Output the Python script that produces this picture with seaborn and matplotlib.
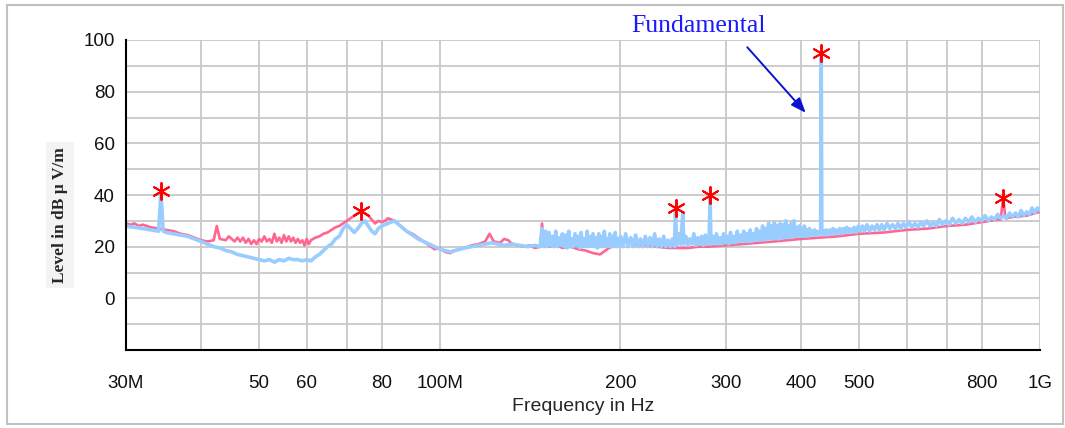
import matplotlib
matplotlib.use("Agg")
import matplotlib.pyplot as plt
import seaborn as sns
import pandas as pd
from matplotlib.patches import Rectangle

# ---------------- data (MHz, dBuV/m) ----------------
pink_points = [(30, 29), (30.5, 28.5), (31, 29), (31.5, 28), (32, 28.5), (33, 27.5), (34, 27), (35, 26.5),
               (36, 26), (37, 25), (38, 24.5), (39, 23.5), (40, 22.5), (41, 22), (42, 22.5), (42.5, 28),
               (43, 23), (44, 22.5), (44.5, 24), (45, 23), (45.5, 22), (46, 23.5), (46.5, 22), (47, 23.5),
               (47.5, 21.5), (48, 23), (48.5, 21), (49, 22.5), (49.5, 21), (50, 23), (50.5, 22), (51, 24),
               (51.5, 22), (52, 23), (52.5, 21.5), (53, 25), (53.5, 22), (54, 23.5), (54.5, 21.5), (55, 24.5),
               (55.5, 22), (56, 24), (56.5, 22), (57, 23.5), (57.5, 21.5), (58, 23), (58.5, 21.5), (59, 22.5),
               (59.5, 20.5), (60, 23), (60.5, 21), (61, 22.5), (62, 23.5), (63, 24), (64, 25), (65, 25.5),
               (66, 26.5), (67, 27.5), (68, 28), (69, 29), (70, 30), (71, 31), (72, 32), (73, 33),
               (74, 33.5), (75, 33), (76, 32), (77, 30.5), (78, 29), (79, 30), (80, 29.5), (81, 30),
               (82, 31), (83, 30.5), (84, 30), (86, 28), (88, 26), (90, 25), (92, 23.5), (94, 22),
               (96, 20.5), (98, 19), (100, 19.5), (102, 18), (104, 17.5), (106, 18.5), (108, 19), (110, 19.5),
               (113, 20.5), (116, 21), (119, 22), (121, 25), (123, 22), (126, 21.5), (128, 23), (130, 22.5),
               (132, 21), (135, 20.5), (138, 20), (141, 20.5), (144, 19.5), (147, 20), (148, 29), (149, 21),
               (152, 20), (156, 21), (160, 19.5), (165, 20), (170, 19), (175, 18.5), (180, 17.5), (185, 17),
               (190, 19), (195, 20.5), (200, 22.5), (205, 23), (210, 21), (220, 20.5), (230, 20), (240, 19.5),
               (250, 19.5), (260, 19.5), (270, 20), (280, 20), (300, 20.5), (320, 21), (340, 21.5), (360, 22),
               (380, 22.5), (400, 23), (430, 23.5), (460, 24), (500, 25), (550, 25.5), (600, 26.5), (650, 27),
               (700, 28), (750, 28.5), (800, 29.5), (850, 30.5), (860, 30.5), (868, 39), (876, 31), (900, 31.5),
               (950, 32), (1000, 33.5)]

blue_points = [(30, 28), (31, 27.5), (32, 27), (33, 26.5), (34, 26), (34.3, 41), (34.6, 26), (35, 25.5),
               (36, 25), (37, 24.5), (38, 24), (39, 23), (40, 22), (41, 21), (42, 20), (43, 19.5),
               (44, 18.5), (45, 18), (46, 17), (47, 16.5), (48, 16), (49, 15.5), (50, 15), (51, 14.5),
               (52, 15), (53, 14), (54, 15), (55, 14.5), (56, 15.5), (57, 15), (58, 15), (59, 14.5),
               (60, 15), (61, 14.5), (62, 16), (63, 17), (64, 18.5), (65, 20), (66, 21), (67, 23),
               (68, 24), (69, 27), (70, 28.5), (71, 27), (72, 25.5), (73, 27), (74, 29), (75, 30),
               (76, 28), (77, 26), (78, 25), (79, 27), (80, 28), (82, 29), (84, 30), (86, 28),
               (88, 26), (90, 24.5), (92, 23), (94, 22), (96, 21), (98, 20), (100, 19), (102, 18.5),
               (104, 18), (106, 18.5), (108, 19), (110, 19.5), (113, 20), (116, 20.5), (119, 21), (122, 21.5),
               (125, 21), (128, 20.5), (132, 21), (136, 20.5), (140, 20), (144, 20.5), (147, 20),
               (148, 27), (149, 20), (150, 26), (151, 20), (152, 25.5), (153, 20.5), (154, 24), (155, 20),
               (156, 26), (157, 20), (158, 23.5), (159, 20.5), (160, 25), (161, 20), (162, 24.5), (163, 19.5),
               (164, 26), (165, 20), (166, 23), (167, 20), (168, 25), (169, 20.5), (170, 24), (171, 19.5),
               (172, 25.5), (173, 20), (174, 23), (175, 20), (176, 26), (177, 20), (178, 24), (179, 20.5),
               (180, 25), (181, 20), (182, 23.5), (183, 19.5), (184, 25), (185, 20), (186, 24), (187, 20),
               (188, 26), (189, 20.5), (190, 23), (191, 20), (192, 25), (193, 20), (194, 24), (195, 20),
               (196, 25.5), (197, 20), (198, 23), (199, 20.5), (200, 24), (202, 20), (204, 25), (206, 20),
               (208, 23.5), (210, 20), (212, 24.5), (214, 20), (216, 23), (218, 20), (220, 24), (222, 20),
               (224, 23.5), (226, 20), (228, 25), (230, 20), (232, 23), (234, 20), (236, 24), (238, 20),
               (240, 22.5), (242, 20), (244, 23), (246, 20), (247, 34), (248, 20.5), (250, 25), (252, 21),
               (254, 33), (255, 21), (257, 24), (259, 20.5), (261, 23), (263, 21), (265, 25), (267, 20.5),
               (269, 23.5), (271, 21), (273, 24), (275, 20.5), (277, 24.5), (279, 21), (281, 23), (282, 40),
               (283, 21), (285, 24), (287, 21), (289, 25), (291, 21), (293, 23.5), (295, 21), (297, 25),
               (299, 21.5), (301, 24), (303, 21), (305, 25.5), (307, 21.5), (309, 24), (311, 21.5), (313, 26),
               (315, 22), (317, 24.5), (319, 22), (321, 26), (323, 22), (325, 25), (327, 22), (329, 26.5),
               (331, 22), (333, 25), (335, 22.5), (337, 27), (339, 22.5), (341, 26), (343, 22.5), (345, 28),
               (347, 22.5), (349, 27), (351, 23), (353, 29), (355, 23), (357, 28), (359, 23), (361, 29.5),
               (363, 23), (365, 28), (367, 23), (369, 29), (371, 23.5), (373, 28.5), (375, 23.5), (377, 30),
               (379, 23.5), (381, 28), (383, 23.5), (385, 29), (387, 24), (389, 30), (391, 24), (393, 27.5),
               (395, 24), (397, 28), (399, 24), (401, 27), (403, 24), (405, 28), (407, 24), (409, 26.5),
               (411, 24), (413, 27), (415, 24.5), (417, 26), (419, 24.5), (421, 26.5), (423, 24.5), (425, 26),
               (427, 24.5), (429, 25.5), (431, 25), (432, 95), (433, 25), (435, 26), (437, 24.5), (440, 26.5),
               (443, 24.5), (446, 26.5), (449, 25), (452, 27), (455, 25), (458, 26.5), (461, 25), (464, 27),
               (467, 25), (470, 27), (473, 25.5), (476, 27.5), (479, 25.5), (482, 27), (486, 25.5), (490, 27.5),
               (494, 25.5), (498, 28), (502, 26), (506, 28), (510, 26), (515, 28.5), (520, 26), (525, 28),
               (530, 26.5), (535, 28.5), (540, 26.5), (545, 28.5), (550, 26.5), (556, 29), (562, 27), (568, 28.5),
               (574, 27), (580, 29), (586, 27), (592, 29), (598, 27.5), (605, 29.5), (612, 27.5), (619, 29),
               (626, 27.5), (633, 29.5), (640, 28), (648, 30), (656, 28), (664, 29.5), (672, 28), (680, 30.5),
               (688, 28.5), (697, 30), (706, 28.5), (715, 31), (724, 29), (733, 30.5), (742, 29), (751, 31),
               (760, 29.5), (770, 31.5), (780, 29.5), (790, 31), (800, 30), (810, 32), (820, 30), (830, 31.5),
               (840, 30.5), (850, 32.5), (860, 31), (870, 32), (880, 31), (890, 33), (900, 31.5), (910, 33),
               (920, 31.5), (930, 34), (940, 32), (950, 33.5), (960, 32.5), (970, 35), (980, 33), (990, 35),
               (1000, 34)]

peak_freq = [34.3, 74, 247, 282, 432, 868]
peak_level = [41.5, 34, 35, 40, 95, 39]

xtick_vals = [30, 40, 50, 60, 70, 80, 100, 200, 300, 400, 500, 600, 700, 800, 1000]
xtick_labels = ['30M', '', '50', '60', '', '80', '100M', '200', '300', '400', '500', '', '', '800', '1G']
ytick_vals = [-10, 0, 10, 20, 30, 40, 50, 60, 70, 80, 90, 100]
ytick_labels = ['', '0', '', '20', '', '40', '', '60', '', '80', '', '100']

# ---------------- plot ----------------
sns.set_style("white")
plt.rcParams['font.family'] = ['Liberation Sans', 'DejaVu Sans']

fig = plt.figure(figsize=(10.65, 4.28), dpi=100)
ax = fig.add_axes([126/1065, 1-350/428, (1040-126)/1065, (350-40)/428])

pink_df = pd.DataFrame(pink_points, columns=['freq', 'level'])
blue_df = pd.DataFrame(blue_points, columns=['freq', 'level'])
peak_df = pd.DataFrame({'freq': peak_freq, 'level': peak_level})

sns.lineplot(data=pink_df, x='freq', y='level', ax=ax, color='#ff6690', lw=1.9,
             sort=False, estimator=None, zorder=3)
sns.lineplot(data=blue_df, x='freq', y='level', ax=ax, color='#99ccff', lw=2.6,
             sort=False, estimator=None, zorder=4)
sns.scatterplot(data=peak_df, x='freq', y='level', ax=ax, marker=(6, 2, 0), s=150,
                color='#ff0000', linewidth=1.4, zorder=5)

ax.set_xscale('log')
ax.set_xlim(30, 1000)
ax.set_ylim(-20, 100)
ax.set_xticks(xtick_vals)
ax.set_xticklabels(xtick_labels)
ax.xaxis.set_minor_locator(matplotlib.ticker.NullLocator())
ax.set_yticks(ytick_vals)
ax.set_yticklabels(ytick_labels)
ax.tick_params(axis='both', direction='inout', length=12, width=1.3, color='black',
               labelsize=13.5, labelcolor='#111111')
ax.tick_params(axis='x', pad=12)
ax.tick_params(axis='y', pad=2)
ax.grid(True, color='#c8c8c8', lw=1.3)
ax.set_axisbelow(True)
for s in ['top', 'right']:
    ax.spines[s].set_visible(False)
for s in ['left', 'bottom']:
    ax.spines[s].set_color('black')
    ax.spines[s].set_linewidth(1.5)
    ax.spines[s].set_zorder(6)

ax.set_xlabel('Frequency in Hz', fontsize=14, labelpad=4)
ax.set_ylabel('')
fig.text(60/1065, 1-215/428, 'Level in dB \u00b5 V/m', rotation=90, ha='center', va='center',
         fontsize=12.5, fontweight='bold', family=['Liberation Serif', 'DejaVu Serif'],
         bbox=dict(facecolor='#f3f3f3', edgecolor='none', pad=4))

ax.text(270, 105.5, 'Fundamental', color='#1a1aff', fontsize=18.5, ha='center', va='center',
        family=['Liberation Serif', 'DejaVu Serif'], clip_on=False)
ax.annotate('', xy=(410, 71), xytext=(323, 98),
            arrowprops=dict(arrowstyle='-|>,head_length=0.9,head_width=0.35', color='#0a14d0', lw=1.4),
            annotation_clip=False)

fig.patches.append(Rectangle((7/1065, 1-424/428), 1056/1065, 419/428, transform=fig.transFigure,
                             fill=False, edgecolor='#c0c0c0', lw=1.5))

fig.savefig('out.png', dpi=100)
